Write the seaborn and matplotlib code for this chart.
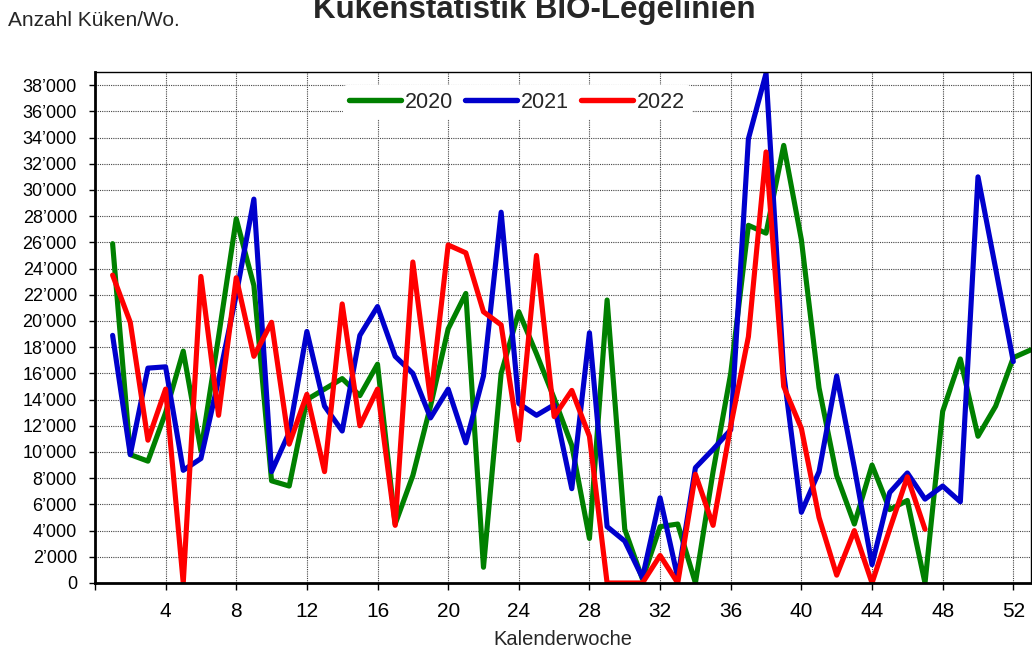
import matplotlib
matplotlib.use("Agg")
import matplotlib.pyplot as plt
import matplotlib.ticker as mticker
import seaborn as sns
import pandas as pd
import numpy as np

# Kalenderwochen 1..53
wochen = list(range(1, 54))

kueken_2020 = [25900, 9800, 9300, 13000, 17700, 10100, 18800, 27800, 22700, 7800,
               7400, 14000, 14800, 15600, 14300, 16700, 4500, 8200, 13500, 19400,
               22100, 1200, 16000, 20700, 17500, 14100, 10500, 3400, 21600, 4100,
               300, 4300, 4500, 0, 8500, 16000, 27300, 26700, 33400, 26200,
               14900, 8200, 4500, 9000, 5600, 6300, 0, 13100, 17100, 11200,
               13500, 17200, 17800]

kueken_2021 = [18900, 9800, 16400, 16500, 8600, 9500, 15500, 22000, 29300, 8500,
               11500, 19200, 13500, 11600, 18900, 21100, 17300, 16000, 12600, 14800,
               10700, 15800, 28300, 13700, 12800, 13600, 7200, 19100, 4300, 3200,
               400, 6500, 400, 8800, 10200, 11700, 33900, 38900, 16000, 5400,
               8500, 15800, 8800, 1400, 6900, 8400, 6400, 7400, 6200, 31000,
               24000, 16900, None]

kueken_2022 = [23500, 19900, 10900, 14800, 0, 23400, 12800, 23300, 17300, 19900,
               10600, 14400, 8500, 21300, 12000, 14800, 4400, 24500, 14000, 25800,
               25200, 20700, 19700, 10900, 25000, 12700, 14700, 11200, 0, 0,
               0, 2100, 0, 8300, 4400, 12000, 18800, 32900, 15000, 11800,
               5000, 600, 4000, 0, 4100, 8100, 4100, None, None, None,
               None, None, None]

jahre = ["2020", "2021", "2022"]
farben = ["#008000", "#0000CC", "#FF0000"]

df = pd.DataFrame({"KW": wochen, "2020": kueken_2020,
                   "2021": kueken_2021, "2022": kueken_2022})
df = df.melt(id_vars="KW", var_name="Jahr", value_name="Anzahl").dropna()

sns.set_style("white")
plt.rcParams["font.family"] = ["Liberation Sans", "DejaVu Sans"]

fig = plt.figure(figsize=(10.32, 6.49), dpi=100)
ax = fig.add_axes([0.092, 0.1017, 0.907, 0.7873])

sns.lineplot(data=df, x="KW", y="Anzahl", hue="Jahr", hue_order=jahre,
             palette=dict(zip(jahre, farben)), linewidth=3.7,
             estimator=None, ax=ax)

ax.set_xlim(0, 53)
ax.set_ylim(0, 39000)
ax.set_xticks(range(0, 53, 4))
ax.set_xticklabels([""] + [str(w) for w in range(4, 53, 4)])
ax.set_yticks(range(0, 38001, 2000))
ax.yaxis.set_major_formatter(
    mticker.FuncFormatter(lambda v, p: f"{int(v):,}".replace(",", "\u2019")))
ax.tick_params(axis="y", labelsize=13, direction="out", length=4.5,
               width=1, colors="black", left=True, pad=8.5)
ax.tick_params(axis="x", labelsize=15, direction="out", length=5,
               width=1, colors="black", bottom=True, pad=9)

ax.grid(True, color="#444444", linestyle=(0, (1, 1)), linewidth=0.8)
ax.set_axisbelow(True)
for side in ["left", "bottom"]:
    ax.spines[side].set_linewidth(2)
    ax.spines[side].set_color("black")
for side in ["top", "right"]:
    ax.spines[side].set_linewidth(1)
    ax.spines[side].set_color("black")

ax.set_xlabel("Kalenderwoche", fontsize=14.5, labelpad=6)
ax.set_ylabel("")

leg = ax.legend(loc="center", bbox_to_anchor=(0.451, 0.941), ncol=3,
                frameon=True, fontsize=15.5, handlelength=2.4,
                handletextpad=0.2, columnspacing=0.55, borderpad=0.3)
leg.get_frame().set_facecolor("white")
leg.get_frame().set_edgecolor("none")
leg.get_frame().set_alpha(1)
for line in leg.get_lines():
    line.set_linewidth(3.9)

fig.text(0.518, 1 - 18 / 649, "Kükenstatistik BIO-Legelinien",
         ha="center", va="baseline", fontsize=22.5, fontweight="bold")
fig.text(8 / 1032, 1 - 26 / 649, "Anzahl Küken/Wo.", ha="left",
         va="baseline", fontsize=15)

fig.savefig("out.png", dpi=100)
